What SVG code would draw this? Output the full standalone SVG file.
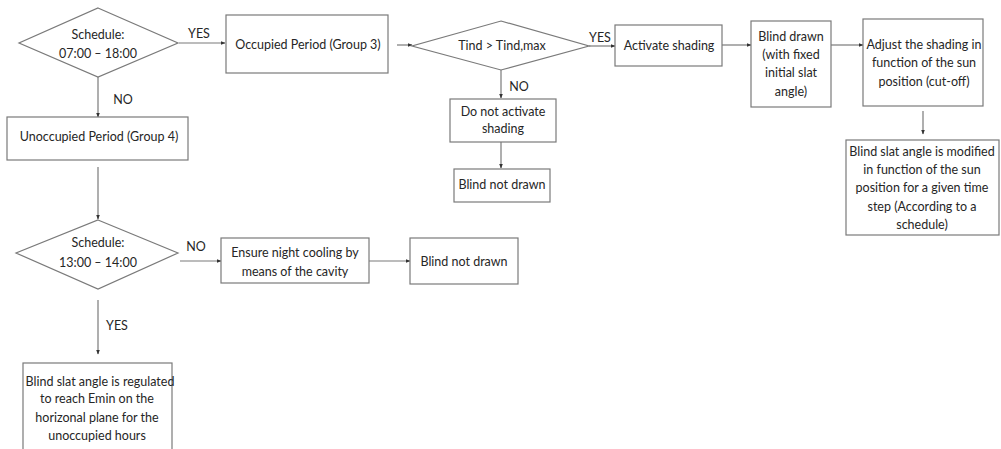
<svg xmlns="http://www.w3.org/2000/svg" width="1001" height="449" viewBox="0 0 1001 449">
<defs>
<style>
.n{fill:#fff;stroke:#7a7a7a;stroke-width:1.2}
.t{font-family:Lato,"Open Sans",sans-serif;font-size:12.5px;fill:#262626;text-anchor:middle}
.l{font-family:Lato,"Open Sans",sans-serif;font-size:12.5px;fill:#262626;text-anchor:middle}
.c{stroke:#7a7a7a;stroke-width:1.2;fill:none;marker-end:url(#ah)}
</style>
<marker id="ah" markerWidth="5" markerHeight="5" refX="4.5" refY="2.5" orient="auto" markerUnits="userSpaceOnUse">
<path d="M0,0.5 L5,2.5 L0,4.5 z" fill="#333"/>
</marker>
</defs>
<rect width="1001" height="449" fill="#fff"/>
<g id="connectors">
<line class="c" x1="179" y1="43" x2="225" y2="43"/>
<line class="c" x1="98" y1="77" x2="98" y2="117"/>
<line class="c" x1="397" y1="45" x2="412" y2="45"/>
<line class="c" x1="589" y1="46" x2="615" y2="46"/>
<line class="c" x1="722" y1="45" x2="751" y2="45"/>
<line class="c" x1="831" y1="45" x2="863" y2="45"/>
<line class="c" x1="923" y1="111" x2="923" y2="134"/>
<line class="c" x1="501" y1="70" x2="501" y2="98"/>
<line class="c" x1="501" y1="142" x2="501" y2="168"/>
<line class="c" x1="98" y1="167" x2="98" y2="219"/>
<line class="c" x1="180" y1="261" x2="221" y2="261"/>
<line class="c" x1="369" y1="261" x2="410" y2="261"/>
<line class="c" x1="98" y1="300" x2="98" y2="354"/>
<text class="l" x="199" y="38">YES</text>
<text class="l" x="600" y="42">YES</text>
<text class="l" x="123" y="104">NO</text>
<text class="l" x="519" y="91">NO</text>
<text class="l" x="196" y="251">NO</text>
<text class="l" x="117" y="330">YES</text>
</g>
<g id="d1">
<polygon class="n" points="98,8 178,43 98,77 19,43"/>
<text class="t" x="98" y="39">Schedule:</text>
<text class="t" x="98" y="58">07:00 – 18:00</text>
</g>
<g id="occupied">
<rect class="n" x="226" y="15" width="162" height="58"/>
<text class="t" x="308" y="49">Occupied Period (Group 3)</text>
</g>
<g id="d3">
<polygon class="n" points="501,21 589,46 501,70 412,46"/>
<text class="t" x="502" y="50">Tind &gt; Tind,max</text>
</g>
<g id="activate">
<rect class="n" x="615" y="25" width="107" height="41"/>
<text class="t" x="669" y="50">Activate shading</text>
</g>
<g id="blinddrawn">
<rect class="n" x="751" y="21" width="80" height="86"/>
<text class="t" x="791" y="41">Blind drawn</text>
<text class="t" x="791" y="59">(with fixed</text>
<text class="t" x="791" y="77">initial slat</text>
<text class="t" x="791" y="96">angle)</text>
</g>
<g id="adjust">
<rect class="n" x="863" y="19" width="120" height="87"/>
<text class="t" x="924" y="49">Adjust the shading in</text>
<text class="t" x="924" y="67">function of the sun</text>
<text class="t" x="924" y="86">position (cut-off)</text>
</g>
<g id="modified">
<rect class="n" x="846" y="140" width="153" height="95"/>
<text class="t" x="922" y="156">Blind slat angle is modified</text>
<text class="t" x="922" y="174">in function of the sun</text>
<text class="t" x="922" y="192">position for a given time</text>
<text class="t" x="922" y="211">step (According to a</text>
<text class="t" x="922" y="229">schedule)</text>
</g>
<g id="donot">
<rect class="n" x="450" y="99" width="106" height="43"/>
<text class="t" x="503" y="116">Do not activate</text>
<text class="t" x="503" y="133">shading</text>
</g>
<g id="notdrawn1">
<rect class="n" x="454" y="169" width="96" height="33"/>
<text class="t" x="502" y="189">Blind not drawn</text>
</g>
<g id="unoccupied">
<rect class="n" x="7" y="117" width="181" height="43"/>
<text class="t" x="99" y="141">Unoccupied Period (Group 4)</text>
</g>
<g id="d2">
<polygon class="n" points="98,220 178,253 98,289 16,253"/>
<text class="t" x="98" y="247">Schedule:</text>
<text class="t" x="98" y="267">13:00 – 14:00</text>
</g>
<g id="ensure">
<rect class="n" x="221" y="238" width="148" height="45"/>
<text class="t" x="295" y="257">Ensure night cooling by</text>
<text class="t" x="295" y="276">means of the cavity</text>
</g>
<g id="notdrawn2">
<rect class="n" x="410" y="238" width="108" height="46"/>
<text class="t" x="464" y="266">Blind not drawn</text>
</g>
<g id="regulated">
<rect class="n" x="23" y="363" width="149" height="95"/>
<text class="t" x="100" y="386">Blind slat angle is regulated</text>
<text class="t" x="97" y="403">to reach Emin on the</text>
<text class="t" x="97" y="422">horizonal plane for the</text>
<text class="t" x="97" y="440">unoccupied hours</text>
</g>
</svg>
